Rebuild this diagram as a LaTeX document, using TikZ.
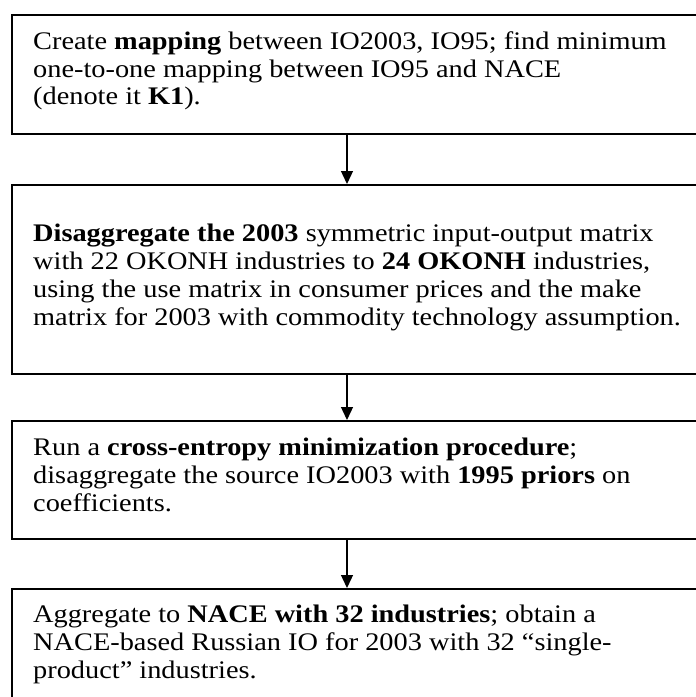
\documentclass[tikz,border=0pt]{standalone}
\usepackage{fontspec}
\setmainfont{Liberation Serif}[FakeStretch=1.12]
\usetikzlibrary{arrows.meta}
\tikzset{
  panel/.style={draw=black, line width=1.6pt, rectangle, minimum width=720pt, anchor=north west, inner sep=0pt},
  txt/.style={anchor=base west, inner sep=0pt, font=\fontsize{25.3}{28}\selectfont},
  flow/.style={draw=black, line width=1.3pt, -{Triangle[length=13pt,width=12pt]}}
}
\begin{document}
\begin{tikzpicture}[x=1pt,y=-1pt]
\useasboundingbox (0,0) rectangle (696,697);
\clip (0,0) rectangle (696,697);
% boxes
\node[panel, minimum height=119pt] (b1) at (11,14) {};
\node[panel, minimum height=189pt] (b2) at (11,184) {};
\node[panel, minimum height=118pt] (b3) at (11,420) {};
\node[panel, minimum height=140pt] (b4) at (11,588) {};
% texts
\node[txt] (t11) at (33,49.5) {Create \textbf{mapping} between IO2003, IO95; find minimum};
\node[txt] (t12) at (33,77) {one-to-one mapping between IO95 and NACE};
\node[txt] (t13) at (33,104.5) {(denote it \textbf{K1}).};
\node[txt] (t21) at (33,241) {\textbf{Disaggregate the 2003} symmetric input-output matrix};
\node[txt] (t22) at (33,269) {with 22 OKONH industries to \textbf{24 OKONH} industries,};
\node[txt] (t23) at (33,297) {using the use matrix in consumer prices and the make};
\node[txt] (t24) at (33,325) {matrix for 2003 with commodity technology assumption.};
\node[txt] (t31) at (33,455) {Run a \textbf{cross-entropy minimization procedure};};
\node[txt] (t32) at (33,483) {disaggregate the source IO2003 with \textbf{1995 priors} on};
\node[txt] (t33) at (33,511) {coefficients.};
\node[txt] (t41) at (33,622) {Aggregate to \textbf{NACE with 32 industries}; obtain a};
\node[txt] (t42) at (33,650) {NACE-based Russian IO for 2003 with 32 “single-};
\node[txt] (t43) at (33,678) {product” industries.};
% arrows
\coordinate (ax) at (347,0);
\draw[flow] (b1.south -| ax) -- (b2.north -| ax);
\draw[flow] (b2.south -| ax) -- (b3.north -| ax);
\draw[flow] (b3.south -| ax) -- (b4.north -| ax);
\end{tikzpicture}
\end{document}
